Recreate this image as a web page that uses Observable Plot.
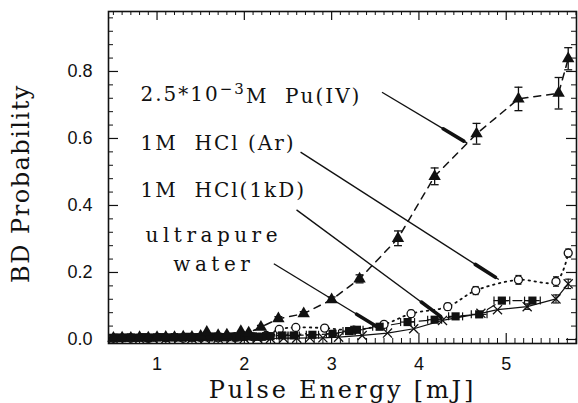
<!DOCTYPE html>
<html><head><meta charset="utf-8">
<script src="https://cdn.jsdelivr.net/npm/d3@7"></script>
<script src="https://cdn.jsdelivr.net/npm/@observablehq/plot@0.6"></script>
<style>body{margin:0;background:#fff}</style>
</head><body><div id="chart"></div>
<script>
// ---- data ----
const puX = [0.5,0.6,0.7,0.8,0.9,1.0,1.1,1.2,1.3,1.4,1.5,1.57,1.7,1.8,1.96,2.05,2.19,2.39,2.68,3.0,3.32,3.76,4.18,4.66,5.14,5.6,5.71];
const puY = [0.004,0.005,0.004,0.006,0.005,0.006,0.007,0.006,0.008,0.007,0.010,0.022,0.012,0.014,0.024,0.020,0.037,0.062,0.077,0.119,0.181,0.302,0.487,0.614,0.718,0.735,0.838];
const puErr = [0,0,0,0,0,0,0,0,0,0,0,0,0,0,0,0,0.005,0.006,0.006,0.008,0.012,0.022,0.025,0.031,0.035,0.047,0.033];

const arX = [0.5,0.7,0.9,1.1,1.3,1.5,1.7,1.9,2.1,2.25,2.4,2.59,2.92,3.25,3.6,3.91,4.33,4.65,5.14,5.57,5.71];
const arY = [0.003,0.004,0.003,0.005,0.004,0.006,0.005,0.007,0.008,0.012,0.030,0.036,0.034,0.028,0.045,0.077,0.098,0.146,0.178,0.173,0.258];
const arErr = [0,0,0,0,0,0,0,0,0,0,0.006,0.007,0.007,0.006,0.008,0.010,0.010,0.012,0.013,0.014,0.012];

const kdX = [0.5,0.55,0.6,0.65,0.7,0.75,0.8,0.85,0.9,0.95,1.0,1.05,1.1,1.15,1.2,1.25,1.3,1.35,1.4,1.45,1.5,1.55,1.6,1.65,1.7,1.75,1.8,1.85,1.9,1.95,2.0,2.05,2.1,2.15,2.2,2.25,2.3,2.43,2.57,2.78,3.01,3.2,3.29,3.55,3.87,4.18,4.42,4.69,4.95,5.30];
const kdY = [0.005,0.006,0.004,0.006,0.006,0.005,0.005,0.007,0.004,0.006,0.006,0.007,0.005,0.006,0.007,0.006,0.006,0.008,0.005,0.007,0.007,0.008,0.006,0.009,0.008,0.007,0.007,0.009,0.006,0.008,0.008,0.010,0.009,0.008,0.008,0.010,0.010,0.012,0.012,0.014,0.017,0.025,0.029,0.038,0.052,0.059,0.069,0.075,0.116,0.116];
const kdErrX = [0,0,0,0,0,0,0,0,0,0,0,0,0,0,0,0,0,0,0,0,0,0,0,0,0,0,0,0,0,0,0,0,0,0,0,0,0,0.06,0.06,0.07,0.07,0.07,0.07,0.08,0.08,0.08,0.08,0.09,0.09,0.09];

const wX = [0.5,0.65,0.8,0.95,1.1,1.25,1.4,1.55,1.7,1.85,2.0,2.15,2.3,2.45,2.6,2.75,2.9,3.08,3.35,3.64,3.94,4.27,4.71,4.90,5.24,5.57,5.71];
const wY = [0.002,0.003,0.002,0.003,0.002,0.003,0.003,0.002,0.004,0.003,0.003,0.004,0.003,0.004,0.004,0.005,0.005,0.007,0.012,0.019,0.032,0.057,0.078,0.089,0.098,0.121,0.166];
const wErr = [0,0,0,0,0,0,0,0,0,0,0,0,0,0,0,0,0,0,0,0,0,0,0,0,0.008,0.012,0.014];

const annText = ["2.5*10\u22123M Pu(IV)", "1M  HCl (Ar)", "1M  HCl(1kD)"];
const annTextX = [0.811, 0.811, 0.811];
const annTextY = [0.713, 0.567, 0.425];
const waterText = ["ultrapure", "water"];
const waterTextX = [1.65, 1.65];
const waterTextY = [0.290, 0.204];
const arrX1 = [3.577, 2.644, 2.598, 2.338];
const arrY1 = [0.738, 0.559, 0.387, 0.226];
const arrX2 = [4.553, 4.915, 4.285, 3.56];
const arrY2 = [0.586, 0.179, 0.062, 0.032];

const xTicks = [1,2,3,4,5];
const yTicks = [0.0,0.2,0.4,0.6,0.8];
const yTickLabels = ["0.0","0.2","0.4","0.6","0.8"];
const xTitle = "Pulse Energy [mJ]";
const yTitle = "BD Probability";

// ---- build ----
const W = 578, H = 403, mL = 108, mR = 2, mT = 11, mB = 60;
const iw = W - mL - mR, ih = H - mT - mB;
const xDom = [0.444, 5.805], yDom = [-0.012, 0.979];
const kx = iw / (xDom[1] - xDom[0]), ky = ih / (yDom[1] - yDom[0]);
const zip = (xs, ys, es) => xs.map((x, i) => ({x, y: ys[i], e: es ? es[i] : 0}));
const pu = zip(puX, puY, puErr), ar = zip(arX, arY, arErr), kd = zip(kdX, kdY, kdErrX), wa = zip(wX, wY, wErr);
const hCap = {draw(ctx, size){const r = Math.sqrt(size/Math.PI); ctx.moveTo(-r,0); ctx.lineTo(r,0);}};
const vCap = {draw(ctx, size){const r = Math.sqrt(size/Math.PI); ctx.moveTo(0,-r); ctx.lineTo(0,r);}};
const xMinor = d3.range(5, 59).map(d => d/10).filter(d => Math.abs(d - Math.round(d)) > 1e-9);
const yMinor = d3.range(1, 25).map(d => d*0.04).filter(d => Math.abs(d/0.2 - Math.round(d/0.2)) > 1e-6);
const serif = "DejaVu Serif";
const withErr = a => a.filter(d => d.e > 0);
const anns = arrX1.map((x1, i) => {
  const x2 = arrX2[i], y1 = arrY1[i], y2 = arrY2[i];
  const len = Math.hypot((x2 - x1) * kx, (y2 - y1) * ky);
  const t0 = 1 - 28 / len, t1 = 1 - 4 / len;
  return {x1, y1, x2, y2,
    hx1: x1 + (x2 - x1) * t0, hy1: y1 + (y2 - y1) * t0,
    hx2: x1 + (x2 - x1) * t1, hy2: y1 + (y2 - y1) * t1};
});

const chart = Plot.plot({
  width: W, height: H,
  marginLeft: mL, marginRight: mR, marginTop: mT, marginBottom: mB,
  style: {fontFamily: "Liberation Sans, Arial, sans-serif", fontSize: "18px", background: "#fff", color: "#111"},
  x: {domain: xDom},
  y: {domain: yDom},
  marks: [
    Plot.tickX(xTicks, {x: d => d, insetTop: ih - 10, strokeWidth: 1.2}),
    Plot.tickX(xMinor, {x: d => d, insetTop: ih - 5, strokeWidth: 1}),
    Plot.tickX(xTicks, {x: d => d, insetBottom: ih - 9, strokeWidth: 1.2}),
    Plot.tickX(xMinor, {x: d => d, insetBottom: ih - 4, strokeWidth: 1}),
    Plot.tickY(yTicks, {y: d => d, insetRight: iw - 10, strokeWidth: 1.2}),
    Plot.tickY(yMinor, {y: d => d, insetRight: iw - 5, strokeWidth: 1}),
    Plot.tickY(yTicks, {y: d => d, insetLeft: iw - 10, strokeWidth: 1.2}),
    Plot.tickY(yMinor, {y: d => d, insetLeft: iw - 5, strokeWidth: 1}),
    Plot.axisX(xTicks, {tickSize: 0, tickPadding: 14, fontSize: 18, label: null}),
    Plot.axisY(yTicks, {tickSize: 0, tickPadding: 16, fontSize: 18, label: null, tickFormat: (d, i) => yTickLabels[i]}),
    Plot.frame({strokeWidth: 1.6}),
    // lines
    Plot.line(wa, {x: "x", y: "y", stroke: "#111", strokeWidth: 1.2}),
    Plot.line(kd, {x: "x", y: "y", stroke: "#111", strokeWidth: 1.2, strokeDasharray: "9,5"}),
    Plot.line(ar, {x: "x", y: "y", stroke: "#111", strokeWidth: 1.8, strokeDasharray: "1.5,4.5", strokeLinecap: "round", curve: "catmull-rom"}),
    Plot.line(pu, {x: "x", y: "y", stroke: "#111", strokeWidth: 1.5, strokeDasharray: "7,6"}),
    // error bars
    Plot.ruleX(withErr(pu), {x: "x", y1: d => d.y - d.e, y2: d => d.y + d.e, strokeWidth: 1.3}),
    Plot.dot(withErr(pu), {x: "x", y: d => d.y - d.e, symbol: hCap, r: 4, stroke: "#111", strokeWidth: 1.3}),
    Plot.dot(withErr(pu), {x: "x", y: d => d.y + d.e, symbol: hCap, r: 4, stroke: "#111", strokeWidth: 1.3}),
    Plot.ruleX(withErr(ar), {x: "x", y1: d => d.y - d.e, y2: d => d.y + d.e, strokeWidth: 1.2}),
    Plot.dot(withErr(ar), {x: "x", y: d => d.y - d.e, symbol: hCap, r: 3, stroke: "#111", strokeWidth: 1.2}),
    Plot.dot(withErr(ar), {x: "x", y: d => d.y + d.e, symbol: hCap, r: 3, stroke: "#111", strokeWidth: 1.2}),
    Plot.ruleX(withErr(wa), {x: "x", y1: d => d.y - d.e, y2: d => d.y + d.e, strokeWidth: 1.2}),
    Plot.dot(withErr(wa), {x: "x", y: d => d.y - d.e, symbol: hCap, r: 3, stroke: "#111", strokeWidth: 1.2}),
    Plot.dot(withErr(wa), {x: "x", y: d => d.y + d.e, symbol: hCap, r: 3, stroke: "#111", strokeWidth: 1.2}),
    Plot.ruleY(withErr(kd), {y: "y", x1: d => d.x - d.e, x2: d => d.x + d.e, strokeWidth: 1.2}),
    Plot.dot(withErr(kd), {x: d => d.x - d.e, y: "y", symbol: vCap, r: 4, stroke: "#111", strokeWidth: 1.2}),
    Plot.dot(withErr(kd), {x: d => d.x + d.e, y: "y", symbol: vCap, r: 4, stroke: "#111", strokeWidth: 1.2}),
    // markers
    Plot.dot(wa, {x: "x", y: "y", symbol: "times", r: 4.2, stroke: "#111", strokeWidth: 1.3}),
    Plot.dot(ar, {x: "x", y: "y", symbol: "circle", r: 4, fill: "#fff", stroke: "#111", strokeWidth: 1.3}),
    Plot.dot(kd, {x: "x", y: "y", symbol: "square", r: 4.6, fill: "#111"}),
    Plot.dot(pu, {x: "x", y: "y", symbol: "triangle", r: 4.6, fill: "#111"}),
    // annotation pointers: thin line + slender thick head
    Plot.link(anns, {x1: "x1", y1: "y1", x2: "x2", y2: "y2", stroke: "#111", strokeWidth: 1.4}),
    Plot.link(anns, {x1: "hx1", y1: "hy1", x2: "hx2", y2: "hy2", stroke: "#111", strokeWidth: 3.6, strokeLinecap: "round"}),
    Plot.text(annText, {x: (d, i) => annTextX[i], y: (d, i) => annTextY[i], text: d => d, textAnchor: "start", lineAnchor: "bottom", fontFamily: serif, fontSize: 20, fill: "#111"}),
    Plot.text(waterText, {x: (d, i) => waterTextX[i], y: (d, i) => waterTextY[i], text: d => d, textAnchor: "middle", lineAnchor: "bottom", fontFamily: serif, fontSize: 20, fill: "#111"}),
    // axis titles
    Plot.text([xTitle], {frameAnchor: "bottom", dy: 54, lineAnchor: "bottom", text: d => d, fontFamily: serif, fontSize: 24, fill: "#111"}),
    Plot.text([yTitle], {frameAnchor: "left", dx: -87, dy: 6, rotate: -90, textAnchor: "middle", lineAnchor: "middle", text: d => d, fontFamily: serif, fontSize: 24, fill: "#111"})
  ]
});
chart.querySelectorAll("text").forEach(t => {
  const s = t.textContent;
  if (s.includes("HCl")) t.style.letterSpacing = "2px";
  if (s === "ultrapure" || s === "water") t.style.letterSpacing = "4.5px";
  if (s === xTitle) t.style.letterSpacing = "2.8px";
  if (s === yTitle) t.style.letterSpacing = "1.5px";
  if (s.includes("Pu(IV)")) {
    // render the exponent as a real superscript
    t.style.letterSpacing = "2px";
    t.textContent = "";
    const ns = "http://www.w3.org/2000/svg";
    const a = document.createElementNS(ns, "tspan"); a.textContent = "2.5*10";
    const b = document.createElementNS(ns, "tspan"); b.textContent = "\u22123";
    b.setAttribute("dy", "-0.45em"); b.setAttribute("font-size", "15");
    const c = document.createElementNS(ns, "tspan"); c.textContent = "M  Pu(IV)";
    c.setAttribute("dy", "0.45em");
    t.append(a, b, c);
  }
});
document.getElementById("chart").appendChild(chart);
</script>
</body></html>
